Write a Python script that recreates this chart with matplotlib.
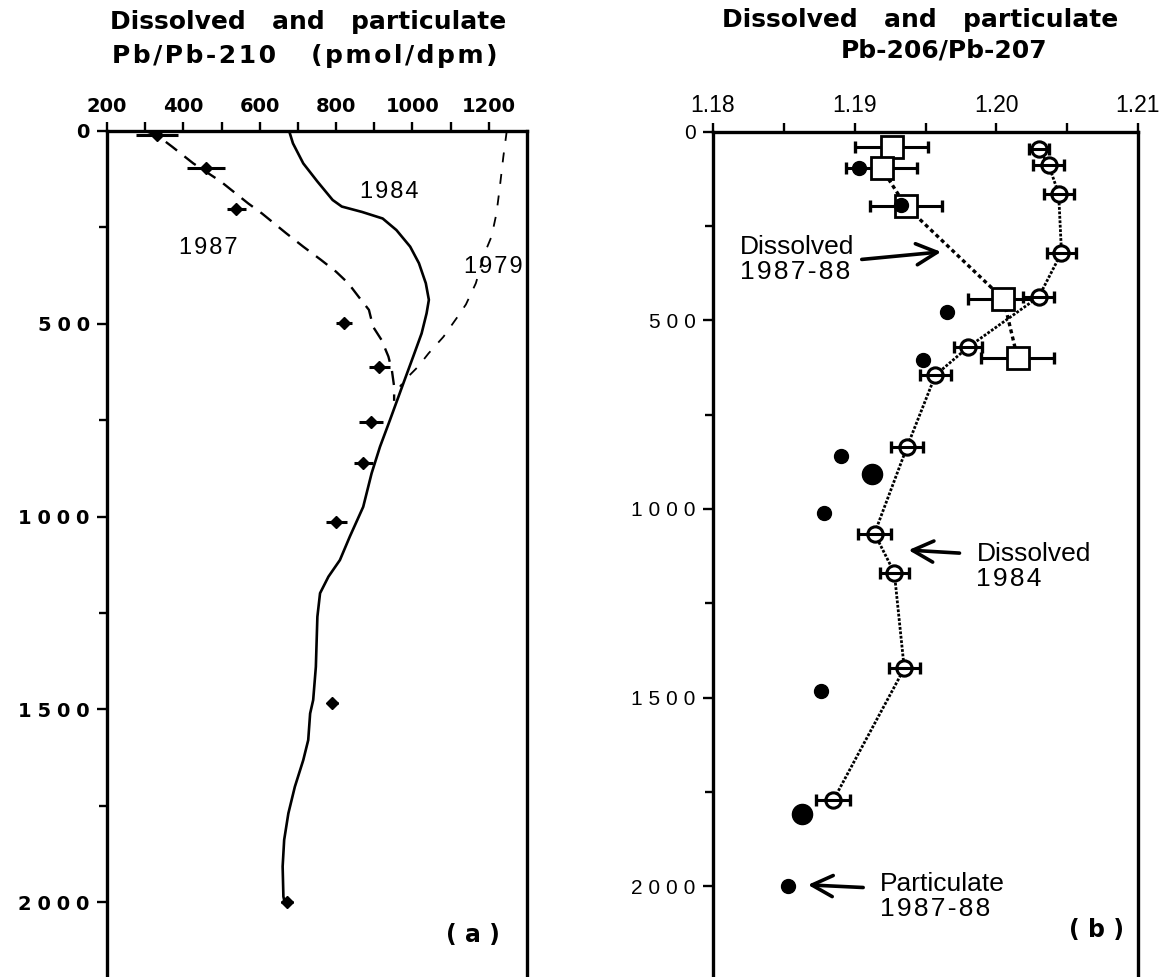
import numpy as np
import matplotlib
matplotlib.use("Agg")
import matplotlib.pyplot as plt

# ---- panel (a): Pb/Pb-210 (pmol/dpm) vs depth (m) ----
# dissolved samples 1987 with horizontal error bars
pb_depth = [10, 97, 203, 497, 611, 754, 862, 1014, 1485, 2000]
pb_ratio = [330, 459, 538, 821, 913, 891, 871, 801, 790, 672]
pb_err = [55, 50, 25, 20, 28, 32, 25, 28, 15, 15]

# profile curves
c1987_ratio = [300, 331, 371, 426, 498, 570, 606, 669, 714, 760, 800, 832,
               859, 886, 897, 919, 937, 946, 952, 952]
c1987_depth = [0, 11, 41, 84, 131, 188, 214, 265, 300, 334, 365, 395,
               430, 464, 508, 542, 585, 620, 663, 700]

c1984_ratio = [677, 687, 714, 751, 791, 815, 868, 922, 958, 994, 1017, 1035,
               1043, 1037, 1024, 1002, 976, 941, 915, 893, 871, 836, 810,
               780, 758, 751, 747, 740, 732, 727, 714, 692, 675, 664, 660,
               662, 665]
c1984_depth = [0, 32, 84, 131, 179, 196, 210, 227, 257, 300, 343, 395,
               438, 473, 525, 585, 655, 750, 819, 888, 975, 1052, 1113,
               1156, 1199, 1260, 1390, 1476, 1511, 1580, 1632, 1701, 1770,
               1839, 1908, 1986, 2000]

c1979_ratio = [1247, 1238, 1229, 1220, 1207, 1189, 1166, 1140, 1116, 1081,
               1042, 1015, 989, 967]
c1979_depth = [0, 67, 144, 214, 274, 317, 395, 450, 485, 534,
               577, 611, 637, 663]

# ---- panel (b): Pb-206/Pb-207 vs depth (m) ----
d84_ratio = [1.2030, 1.2037, 1.2044, 1.2046, 1.2030, 1.1980, 1.1957, 1.1937,
             1.1914, 1.1928, 1.1935, 1.1885]
d84_depth = [46, 88, 164, 320, 437, 571, 645, 835, 1065, 1169, 1423, 1772]
d84_err = [0.0007, 0.0011, 0.00106, 0.001, 0.0011, 0.001, 0.0011, 0.0011,
           0.00115, 0.001, 0.0011, 0.0012]

d87_ratio = [1.1926, 1.1919, 1.1936, 1.2005, 1.2015]
d87_depth = [39, 96, 196, 443, 600]
d87_err = [0.0026, 0.0025, 0.00255, 0.0025, 0.00255]

part_ratio = [1.1903, 1.1933, 1.1965, 1.1948, 1.1890, 1.1912, 1.1878,
              1.1876, 1.1863, 1.1853]
part_depth = [96, 194, 477, 605, 859, 907, 1011, 1482, 1809, 2000]
part_big = [False, False, False, False, False, True, False, False, True, False]

HAIR = "\u200a"
THIN = "\u2009"


def spaced(s, sep=HAIR):
    return sep.join(s)


BOLD = dict(family=["DejaVu Sans"], fontweight="bold")
REG = dict(family=["Liberation Sans", "DejaVu Sans"])

W, H = 1173, 977
fig = plt.figure(figsize=(W / 100, H / 100), dpi=100)


def frame(ax):
    for side in ("left", "right", "top"):
        ax.spines[side].set_linewidth(2.4)
    ax.spines["bottom"].set_visible(False)
    ax.xaxis.tick_top()
    ax.yaxis.tick_left()
    ax.tick_params(which="both", bottom=False, right=False, width=1.7)
    ax.tick_params(axis="x", which="both", length=6.5, pad=4)
    ax.tick_params(axis="y", which="major", length=7.5, pad=5)
    ax.tick_params(axis="y", which="minor", length=5.5)
    ydep = np.arange(0, 2001, 500)
    ax.set_yticks(ydep)
    ax.set_yticks(ydep[:-1] + 250, minor=True)


# ---------------- (a) ----------------
axa = fig.add_axes([107 / W, 0, 420 / W, 1 - 131 / H])
axa.set_xlim(200, 1300)
axa.set_ylim(846 / 0.3855, 0)
frame(axa)
xa = np.arange(200, 1201, 200)
axa.set_xticks(xa, labels=[str(v) for v in xa], fontsize=14, **BOLD)
axa.set_xticks(xa[:-1] + 100, minor=True)
axa.set_yticklabels([spaced(str(v), THIN + HAIR) for v in np.arange(0, 2001, 500)],
                    fontsize=14, **BOLD)

axa.plot(c1984_ratio, c1984_depth, color="black", lw=1.9)
axa.plot(c1987_ratio, c1987_depth, color="black", lw=1.7, dashes=(6, 4))
axa.plot(c1979_ratio, c1979_depth, color="black", lw=1.3, dashes=(5.5, 6.5))
axa.errorbar(pb_ratio, pb_depth, xerr=pb_err, fmt="D", color="black",
             ms=6, elinewidth=2.2, capsize=0, zorder=4)

axa.text(939, 158, spaced("1984"), ha="center", va="center", fontsize=17, **REG)
axa.text(465, 303, spaced("1987"), ha="center", va="center", fontsize=17, **REG)
axa.text(1211, 353, spaced("1979"), ha="center", va="center", fontsize=17, **REG)
axa.text(1159, 2086, "( a )", ha="center", va="center", fontsize=17, **BOLD)

fig.text(308 / W, 1 - 22 / H, "Dissolved   and   particulate",
         ha="center", va="center", fontsize=18, **BOLD)
fig.text(305 / W, 1 - 56 / H, spaced("Pb/Pb-210") + "    " + spaced("(pmol/dpm)"),
         ha="center", va="center", fontsize=18, **BOLD)

# ---------------- (b) ----------------
axb = fig.add_axes([713 / W, 0, 425 / W, 1 - 132 / H])
axb.set_xlim(1.18, 1.21)
axb.set_ylim(845 / 0.377, 0)
frame(axb)
xb = [1.18, 1.19, 1.20, 1.21]
axb.set_xticks(xb, labels=["%.2f" % v for v in xb], fontsize=16.5, **REG)
axb.set_xticks([1.185, 1.195, 1.205], minor=True)
axb.set_yticklabels([spaced(str(v), THIN + HAIR) for v in np.arange(0, 2001, 500)],
                    fontsize=15, **REG)

# dissolved 1984: open circles, fine dotted line
axb.plot(d84_ratio, d84_depth, color="black", lw=2.0, ls=(0, (1, 0.6)), zorder=2)
axb.plot(d84_ratio, d84_depth, ls="none", marker="o", ms=11, mfc="white",
         mec="black", mew=2.2, zorder=3)
axb.errorbar(d84_ratio, d84_depth, xerr=d84_err, fmt="none", ecolor="black",
             elinewidth=2.2, capsize=4, capthick=2.4, zorder=4)

# dissolved 1987-88: open squares, coarse dotted line
axb.plot(d87_ratio, d87_depth, color="black", lw=2.4, ls=(0, (1.2, 1.0)), zorder=2)
axb.errorbar(d87_ratio, d87_depth, xerr=d87_err, fmt="none", ecolor="black",
             elinewidth=2.2, capsize=4, capthick=2.4, zorder=2.5)
axb.plot(d87_ratio, d87_depth, ls="none", marker="s", ms=16, mfc="white",
         mec="black", mew=2.0, zorder=3)

# particulate 1987-88: filled dots
sizes = [14.5 if b else 10 for b in part_big]
for r, d, s in zip(part_ratio, part_depth, sizes):
    axb.plot(r, d, ls="none", marker="o", ms=s, color="black", zorder=5)

arrow = dict(arrowstyle="->,head_length=0.75,head_width=0.38", lw=2.6,
             color="black", shrinkA=0, shrinkB=0, mutation_scale=20)
axb.text(1.1819, 273, "Dissolved\n" + spaced("1987-88"), ha="left", va="top",
         fontsize=19, linespacing=1.05, **REG)
axb.annotate("", xy=(1.1961, 318), xytext=(1.1905, 338), arrowprops=arrow)
axb.text(1.1986, 1088, "Dissolved\n" + spaced("1984"), ha="left", va="top",
         fontsize=19, linespacing=1.05, **REG)
axb.annotate("", xy=(1.1938, 1109), xytext=(1.1974, 1117), arrowprops=arrow)
axb.text(1.1918, 1963, "Particulate\n" + spaced("1987-88"), ha="left", va="top",
         fontsize=19, linespacing=1.05, **REG)
axb.annotate("", xy=(1.1867, 1997), xytext=(1.1906, 2004), arrowprops=arrow)
axb.text(1.2071, 2117, "( b )", ha="center", va="center", fontsize=17, **BOLD)

fig.text(920 / W, 1 - 20 / H, "Dissolved   and   particulate",
         ha="center", va="center", fontsize=18, **BOLD)
fig.text(944 / W, 1 - 51 / H, "Pb-206/Pb-207",
         ha="center", va="center", fontsize=18, **BOLD)

fig.savefig("out.png", dpi=100, facecolor="white")
